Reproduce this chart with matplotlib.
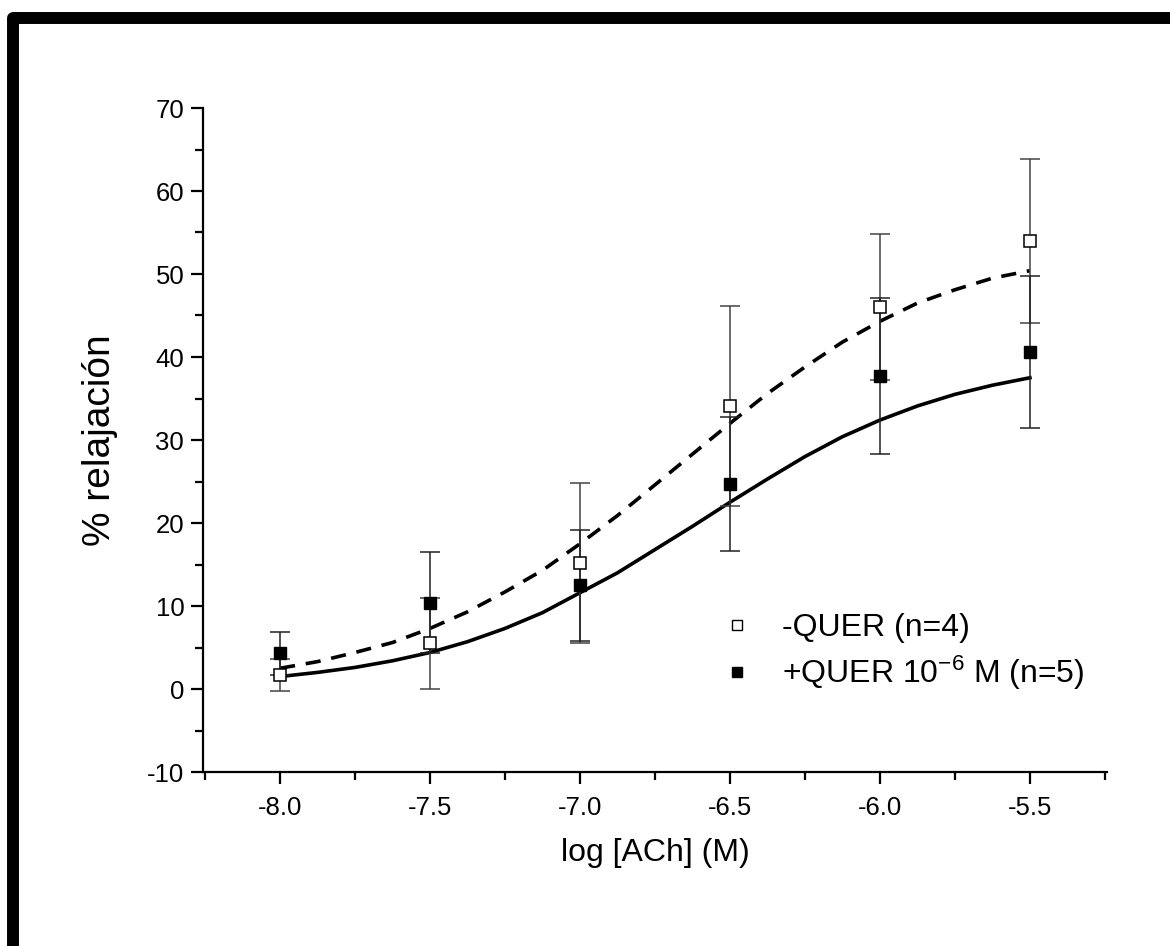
import matplotlib
matplotlib.use("Agg")
import matplotlib.pyplot as plt
from matplotlib.lines import Line2D
from matplotlib.patches import Rectangle
from matplotlib.ticker import MultipleLocator

# === DATA ===
log_ach = [-8.0, -7.5, -7.0, -6.5, -6.0, -5.5]

sin_quer = [1.7, 5.5, 15.2, 34.1, 46.0, 54.0]
sin_quer_err = [1.9, 5.5, 9.6, 12.0, 8.8, 9.9]

con_quer = [4.3, 10.4, 12.5, 24.7, 37.7, 40.6]
con_quer_err = [2.6, 6.1, 6.7, 8.1, 9.4, 9.2]

# fitted curves
curve_x = [-8.0, -7.875, -7.75, -7.625, -7.5, -7.375, -7.25, -7.125, -7.0,
           -6.875, -6.75, -6.625, -6.5, -6.375, -6.25, -6.125, -6.0,
           -5.875, -5.75, -5.625, -5.5]
curve_sin = [2.5, 3.3, 4.4, 5.6, 7.3, 9.3, 11.7, 14.3, 17.5,
             20.9, 24.6, 28.3, 32.0, 35.6, 38.8, 41.8, 44.3,
             46.5, 48.1, 49.5, 50.4]
curve_con = [1.5, 2.0, 2.6, 3.4, 4.4, 5.7, 7.3, 9.2, 11.6,
             14.0, 16.8, 19.6, 22.5, 25.3, 28.0, 30.4, 32.4,
             34.1, 35.5, 36.6, 37.5]

x_ticks = [-8.0, -7.5, -7.0, -6.5, -6.0, -5.5]
y_ticks = [-10, 0, 10, 20, 30, 40, 50, 60, 70]

# === STYLE ===
plt.rcParams["font.family"] = ["Liberation Sans", "DejaVu Sans"]
plt.rcParams["axes.unicode_minus"] = False
plt.rcParams["mathtext.fontset"] = "custom"
plt.rcParams["mathtext.rm"] = "Liberation Sans"
plt.rcParams["mathtext.it"] = "Liberation Sans"

fig = plt.figure(figsize=(11.7, 9.46), dpi=100)
ax = fig.add_axes([203 / 1170, 1 - 772 / 946, 904 / 1170, 664 / 946])

# curves
ax.plot(curve_x, curve_sin, color="black", lw=2.6, dashes=(4.2, 3.0), zorder=2)
ax.plot(curve_x, curve_con, color="black", lw=2.6, zorder=2)

# error bars
ax.errorbar(log_ach, sin_quer, yerr=sin_quer_err, fmt="none", ecolor="#444444",
            elinewidth=1.1, capsize=7, capthick=1.1, zorder=3)
ax.errorbar(log_ach, con_quer, yerr=con_quer_err, fmt="none", ecolor="#222222",
            elinewidth=1.1, capsize=7, capthick=1.1, zorder=3)

# markers
ax.plot(log_ach, sin_quer, ls="none", marker="s", ms=8.5, mfc="white", mec="black",
        mew=1.1, zorder=4)
ax.plot(log_ach, con_quer, ls="none", marker="s", ms=8.5, mfc="black", mec="black",
        zorder=4)

# axes
ax.set_xlim(-8.257, -5.243)
ax.set_ylim(-10, 70)
ax.set_xticks(x_ticks)
ax.set_xticklabels([f"{v:.1f}" for v in x_ticks])
ax.set_yticks(y_ticks)
ax.set_yticklabels([str(v) for v in y_ticks])
ax.xaxis.set_minor_locator(MultipleLocator(0.25))
ax.yaxis.set_minor_locator(MultipleLocator(5))

for side in ["top", "right"]:
    ax.spines[side].set_visible(False)
for side in ["left", "bottom"]:
    ax.spines[side].set_linewidth(1.6)

ax.tick_params(which="major", direction="out", length=8.5, width=1.6, labelsize=18.5, pad=5)
ax.tick_params(which="minor", direction="out", length=5.5, width=1.6)
ax.tick_params(axis="x", which="major", pad=9)

ax.set_xlabel("log [ACh] (M)", fontsize=23)
ax.set_ylabel("% relajación", fontsize=28)
ax.xaxis.set_label_coords(0.5, -0.099)
ax.yaxis.set_label_coords(-0.094, 0.5)

# legend
handles = [
    Line2D([], [], ls="none", marker="s", ms=7, mfc="white", mec="black", mew=1.0),
    Line2D([], [], ls="none", marker="s", ms=7, mfc="black", mec="black"),
]
labels = ["-QUER (n=4)", "+QUER 10$^{-6}$ M (n=5)"]
ax.legend(handles, labels, loc="center left", bbox_to_anchor=(0.573, 0.180),
          frameon=False, fontsize=23, handlelength=1.0, handletextpad=0.9,
          labelspacing=0.35, borderpad=0, borderaxespad=0)

# thick black frame round the figure (right side runs off the picture)
frame = Rectangle((13 / 1170, 1 - 948 / 946), (1180 - 13) / 1170, (948 - 18) / 946,
                  transform=fig.transFigure, fill=False, edgecolor="black",
                  linewidth=8.6, joinstyle="round", clip_on=False)
fig.patches.append(frame)

fig.savefig("out.png", dpi=100)
